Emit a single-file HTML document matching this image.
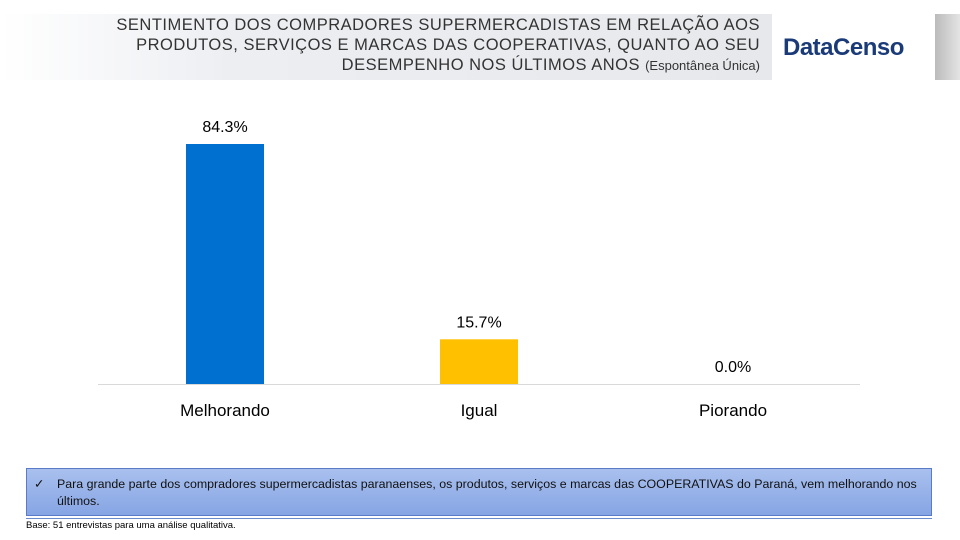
<!DOCTYPE html>
<html><head><meta charset="utf-8"><style>
body{margin:0;width:960px;height:540px;background:#fff;position:relative;overflow:hidden;font-family:"Liberation Sans","DejaVu Sans",sans-serif}
#hdr{position:absolute;left:0;top:14px;width:772px;height:66px;background:linear-gradient(90deg,#fff 0%,#eceef2 30%,#e6e8ec 100%)}
#title{position:absolute;right:200px;top:15px;text-align:right;font-size:16.5px;letter-spacing:0.5px;line-height:20px;color:#333;white-space:nowrap}
#logo{position:absolute;left:783px;top:34px;font-size:24px;font-weight:bold;color:#1a3a78;letter-spacing:-0.5px}
#rstrip{position:absolute;left:935px;top:14px;width:25px;height:66px;background:linear-gradient(90deg,#bbb,#e4e4e4)}
#note{position:absolute;left:26px;top:468px;width:906px;height:48px;background:linear-gradient(180deg,#a9c0ee,#86a5e4);border:1px solid #5a7cc8;box-sizing:border-box;font-size:12.4px;color:#111;padding:7px 6px 0 30px;line-height:17px}
#chk{position:absolute;left:7px;top:7px}
#line{position:absolute;left:26px;top:518px;width:906px;height:1px;background:#6a8acb}
#base{position:absolute;left:26px;top:520px;font-size:9.5px;color:#000}
</style></head><body>
<div id="hdr"></div>
<div id="title">SENTIMENTO DOS COMPRADORES SUPERMERCADISTAS EM RELAÇÃO AOS<br>PRODUTOS, SERVIÇOS E MARCAS DAS COOPERATIVAS, QUANTO AO SEU<br>DESEMPENHO NOS ÚLTIMOS ANOS <span style="font-size:13px;letter-spacing:0">(Espontânea Única)</span></div>
<div id="logo">DataCenso</div>
<div id="rstrip"></div>
<svg id="chart" width="960" height="540" style="position:absolute;left:0;top:0"></svg>
<div id="note"><span id="chk">✓</span>Para grande parte dos compradores supermercadistas paranaenses, os produtos, serviços e marcas das COOPERATIVAS do Paraná, vem melhorando nos últimos.</div>
<div id="line"></div>
<div id="base">Base: 51 entrevistas para uma análise qualitativa.</div>
<script>
const categories=["Melhorando","Igual","Piorando"];
const values=[84.3,15.7,0.0];
const colors=["#0070d0","#ffc000","#a5a5a5"];
const svg=document.getElementById('chart');
const NS="http://www.w3.org/2000/svg";
const x0=98,x1=860,baseY=384,pxPer=240/84.3,bw=78;
const band=(x1-x0)/categories.length;
const xc=i=>x0+band*(i+0.5);
const y=v=>baseY-v*pxPer;
function mk(t,a){const e=document.createElementNS(NS,t);for(const k in a)e.setAttribute(k,a[k]);svg.appendChild(e);return e;}
const ax=mk('line',{x1:x0,x2:x1,y1:baseY+0.5,y2:baseY+0.5,stroke:'#d9d9d9'});


categories.forEach((c,i)=>{
 const r=mk('rect',{x:xc(i)-bw/2,y:y(values[i]),width:bw,height:baseY-y(values[i]),fill:colors[i]});
 
 
 const l=mk('text',{x:xc(i),y:y(values[i])-12,'text-anchor':'middle','font-size':16,fill:'#000'});
 l.textContent=values[i].toFixed(1)+'%';
 
 
 const t=mk('text',{x:xc(i),y:416,'text-anchor':'middle','font-size':17,fill:'#000'});
 t.textContent=c;
 
 
});
</script>
</body></html>
